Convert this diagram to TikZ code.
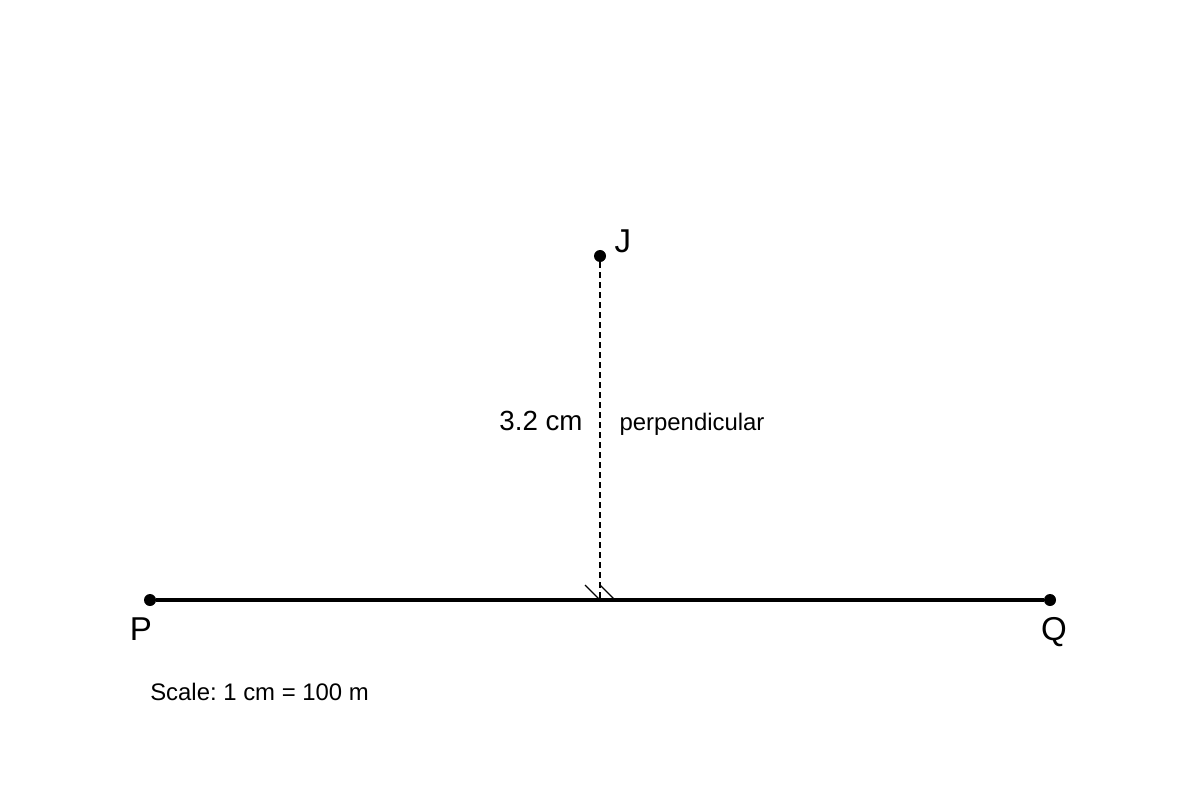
\documentclass[tikz,border=0pt]{standalone}
\usepackage{fontspec}
\setmainfont{Liberation Sans}
\usetikzlibrary{positioning}
\frenchspacing
\begin{document}
\begin{tikzpicture}[x=0.025cm,y=-0.025cm,
                    dot/.style={circle,fill,inner sep=0pt,minimum size=0.3cm},
                    big/.style={font=\fontsize{23.5}{28}\selectfont,anchor=base,inner sep=0pt},
                    mid/.style={font=\fontsize{19.7}{24}\selectfont,anchor=base,inner sep=0pt},
                    small/.style={font=\fontsize{17}{20}\selectfont,anchor=base,inner sep=0pt}]
	\useasboundingbox (0,0) rectangle (1200,800);
	\node[dot]				(P)	at (150,600)	{};
	\node[dot]				(Q)	at (1050,600)	{};
	\node[dot]				(J)	at (600,256)	{};
	\coordinate				(F)	at (600,600);
	\draw[line width=2.2pt]	(P) -- (Q);
	\draw[line width=1.4pt,dash pattern=on 0.15cm off 0.1cm]	(J) -- (F);
	\draw[line width=0.9pt]	([shift={(-15,-15)}]F) -- (F);
	\draw[line width=0.9pt]	([shift={(0,-15)}]F) -- ([shift={(15,0)}]F);
	\node[big]				(lJ)	at (623,252)	{J};
	\node[big]				(lP)	at (141,640)	{P};
	\node[big]				(lQ)	at (1054,640)	{Q};
	\node[mid]				(len)	at (541,430)	{3.2 cm};
	\node[small]			(perp)	at (692,430)	{perpendicular};
	\node[small,anchor=base west]	(scale)	at (150,700)	{Scale: 1 cm = 100 m};
\end{tikzpicture}
\end{document}
